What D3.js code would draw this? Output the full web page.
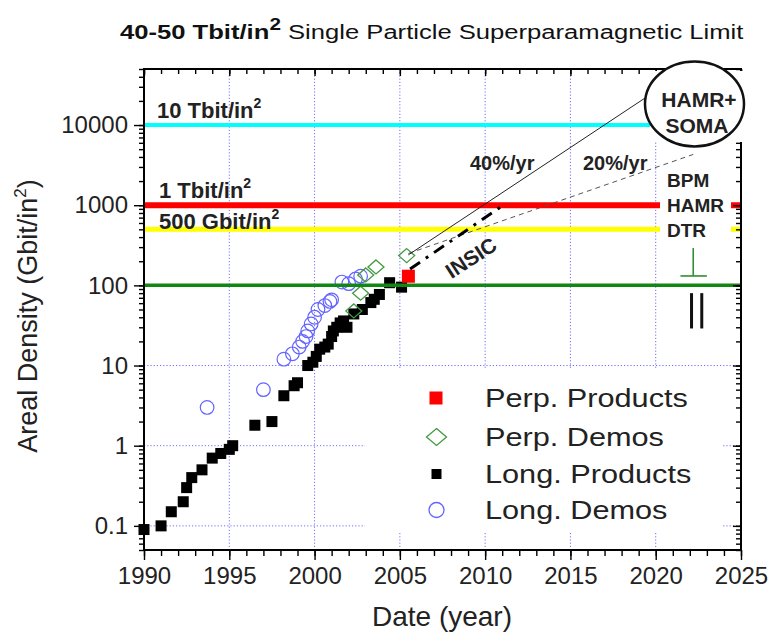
<!DOCTYPE html>
<html>
<head>
<meta charset="utf-8">
<script src="https://cdn.jsdelivr.net/npm/d3@7"></script>
<style>
  body { margin: 0; background: #fff; }
  svg { font-family: "Liberation Sans", Arial, sans-serif; }
</style>
</head>
<body>
<svg id="chart" width="771" height="639"></svg>
<script>
// data: [year, Gbit/in^2]
var longProducts = [
  [1990.0, 0.09], [1991.0, 0.1], [1991.6, 0.15], [1992.3, 0.2], [1992.5, 0.3],
  [1992.8, 0.4], [1993.4, 0.5], [1994.0, 0.7], [1994.5, 0.8], [1995.0, 0.9],
  [1995.2, 1.0], [1996.5, 1.8], [1997.5, 2.0], [1998.2, 4.2], [1998.8, 5.6],
  [1999.0, 6.1], [1999.6, 10], [1999.9, 11], [2000.1, 13], [2000.3, 16],
  [2000.6, 17], [2000.8, 18.5], [2001.0, 23], [2001.1, 27], [2001.3, 30],
  [2001.5, 34], [2001.7, 36], [2001.9, 30], [2002.3, 44], [2002.8, 50],
  [2003.3, 61], [2003.5, 67], [2003.8, 77], [2004.4, 108], [2005.1, 95]
];
var longDemos = [
  [1993.7, 3.0], [1997.0, 5.0], [1998.2, 12], [1998.7, 14], [1999.1, 17],
  [1999.3, 20], [1999.5, 23], [1999.6, 27], [1999.8, 33], [2000.0, 40],
  [2000.2, 50], [2000.6, 56], [2000.9, 63], [2001.0, 66], [2001.6, 110],
  [2002.0, 105], [2002.4, 120], [2002.7, 130]
];
var perpDemos = [[2002.3, 48], [2002.7, 80], [2003.0, 135], [2003.6, 170], [2005.4, 235]];
var perpProducts = [[2005.5, 130]];

// reference densities
var levelValues = [10000, 1000, 500, 100];
var levelLabels = ['10 Tbit/in', '1 Tbit/in', '500 Gbit/in'];

// trend projections
var trend40 = [[2005.5, 240], [2019.4, 21900]];
var trend20 = [[2005.5, 250], [2022.2, 4300]];
var trendInsic = [[2005.6, 160], [2011.0, 980]];

var xTicks = [1990, 1995, 2000, 2005, 2010, 2015, 2020, 2025];
var yTicks = [0.1, 1, 10, 100, 1000, 10000];
var legendLabels = ['Perp. Products', 'Perp. Demos', 'Long. Products', 'Long. Demos'];

var margin = {top: 69, right: 30, bottom: 89, left: 144};
var width = 771 - margin.left - margin.right;
var height = 639 - margin.top - margin.bottom;

var svg = d3.select('#chart');
var g = svg.append('g')
  .attr('transform', 'translate(' + margin.left + ',' + margin.top + ')');

var x = d3.scaleLinear().domain([1990, 2025]).range([0, width]);
var y = d3.scaleLog().domain([0.05, 50000]).range([height, 0]);

var years = d3.range(1990, 2026);
var minorY = y.ticks();

// dotted blue grid
var gridColor = '#6f6fff';
g.append('g').selectAll('line')
  .data(xTicks.slice(1, -1))
  .enter().append('line')
    .attr('x1', d => x(d)).attr('x2', d => x(d))
    .attr('y1', 0).attr('y2', height)
    .attr('stroke', gridColor).attr('stroke-dasharray', '1.2,2');
g.append('g').selectAll('line')
  .data(yTicks)
  .enter().append('line')
    .attr('x1', 0).attr('x2', width)
    .attr('y1', d => y(d)).attr('y2', d => y(d))
    .attr('stroke', gridColor).attr('stroke-dasharray', '1.2,2');

// legend background hides the grid
g.append('rect')
  .attr('x', 221).attr('y', 299).attr('width', 357).attr('height', 165)
  .attr('fill', '#fff');

// markers
var diamond = function(cx, cy, w, h) {
  return 'M' + cx + ',' + (cy - h) + 'L' + (cx + w) + ',' + cy + 'L' + cx + ',' + (cy + h) + 'L' + (cx - w) + ',' + cy + 'Z';
};

g.append('g').selectAll('circle')
  .data(longDemos)
  .enter().append('circle')
    .attr('cx', d => x(d[0])).attr('cy', d => y(d[1]))
    .attr('r', 6.8)
    .attr('fill', 'none').attr('stroke', '#6464ff').attr('stroke-width', 1.2);

g.append('g').selectAll('rect')
  .data(longProducts)
  .enter().append('rect')
    .attr('x', d => x(d[0]) - 5.5).attr('y', d => y(d[1]) - 5.5)
    .attr('width', 11).attr('height', 11)
    .attr('fill', '#000');

g.append('g').selectAll('path')
  .data(perpDemos)
  .enter().append('path')
    .attr('d', d => diamond(x(d[0]), y(d[1]), 8, 7))
    .attr('fill', 'none').attr('stroke', '#3f9a3f').attr('stroke-width', 1.3);

g.append('g').selectAll('rect')
  .data(perpProducts)
  .enter().append('rect')
    .attr('x', d => x(d[0]) - 6.5).attr('y', d => y(d[1]) - 6.5)
    .attr('width', 13).attr('height', 13)
    .attr('fill', '#ff0000');

// reference density lines
var levelColors = ['#00ffff', '#ff0000', '#ffff00', '#118811'];
var levelWidths = [4, 6, 5, 3.5];
g.append('g').selectAll('line')
  .data(levelValues)
  .enter().append('line')
    .attr('x1', 0).attr('x2', width)
    .attr('y1', d => y(d)).attr('y2', d => y(d))
    .attr('stroke', (d, i) => levelColors[i])
    .attr('stroke-width', (d, i) => levelWidths[i]);

// white patch behind the BPM / HAMR / DTR labels
g.append('rect')
  .attr('x', 516).attr('y', 96).attr('width', 71).attr('height', 77)
  .attr('fill', '#fff');

// trends
var line = d3.line().x(d => x(d[0])).y(d => y(d[1]));
g.append('path').datum(trend20)
  .attr('d', line).attr('fill', 'none')
  .attr('stroke', '#555').attr('stroke-width', 1).attr('stroke-dasharray', '5,4');
g.append('path').datum(trend40)
  .attr('d', line).attr('fill', 'none')
  .attr('stroke', '#222').attr('stroke-width', 1);
g.append('path').datum(trendInsic)
  .attr('d', line).attr('fill', 'none')
  .attr('stroke', '#000').attr('stroke-width', 3).attr('stroke-dasharray', '12,7,3,7');

// axes
var styleAxis = function(sel) {
  sel.select('.domain').remove();
  sel.selectAll('.tick line').attr('stroke', '#000').attr('stroke-width', 1.4);
  sel.selectAll('text').attr('font-size', 24).attr('fill', '#222')
    .attr('font-family', '"Liberation Sans", Arial, sans-serif');
};
var noLabel = () => '';

g.append('g')
  .attr('transform', 'translate(0,' + height + ')')
  .call(d3.axisBottom(x).tickValues(years).tickSize(6).tickFormat(noLabel))
  .call(styleAxis);
g.append('g')
  .attr('transform', 'translate(0,' + height + ')')
  .call(d3.axisBottom(x).tickValues(xTicks).tickSize(10).tickPadding(7).tickFormat(d3.format('d')))
  .call(styleAxis);

g.append('g')
  .call(d3.axisTop(x).tickValues(years).tickSize(-5).tickFormat(noLabel))
  .call(styleAxis);
g.append('g')
  .call(d3.axisTop(x).tickValues(xTicks).tickSize(-7).tickFormat(noLabel))
  .call(styleAxis);

g.append('g')
  .call(d3.axisLeft(y).tickValues(minorY).tickSize(5).tickFormat(noLabel))
  .call(styleAxis);
g.append('g')
  .call(d3.axisLeft(y).tickValues(yTicks).tickSize(10).tickPadding(6).tickFormat(d => String(d)))
  .call(styleAxis);

g.append('g')
  .attr('transform', 'translate(' + width + ',0)')
  .call(d3.axisRight(y).tickValues(minorY).tickSize(-5).tickFormat(noLabel))
  .call(styleAxis);
g.append('g')
  .attr('transform', 'translate(' + width + ',0)')
  .call(d3.axisRight(y).tickValues(yTicks).tickSize(-8).tickFormat(noLabel))
  .call(styleAxis);

g.append('rect')
  .attr('width', width).attr('height', height)
  .attr('fill', 'none').attr('stroke', '#000').attr('stroke-width', 2);

// HAMR+SOMA bubble sits over the top right corner
svg.append('rect')
  .attr('x', 650).attr('y', 71).attr('width', 100).attr('height', 71)
  .attr('fill', '#fff');
svg.append('ellipse')
  .attr('cx', 694.5).attr('cy', 104).attr('rx', 49.5).attr('ry', 42.5)
  .attr('fill', '#fff').attr('stroke', '#111').attr('stroke-width', 2.5);
svg.append('text').attr('x', 699).attr('y', 107)
  .attr('text-anchor', 'middle').attr('font-size', 21).attr('font-weight', 'bold')
  .attr('fill', '#222').text('HAMR+');
svg.append('text').attr('x', 697).attr('y', 133)
  .attr('text-anchor', 'middle').attr('font-size', 21).attr('font-weight', 'bold')
  .attr('fill', '#222').text('SOMA');

// technology labels
['BPM', 'HAMR', 'DTR'].forEach(function(t, i) {
  svg.append('text').attr('x', 667).attr('y', 187 + i * 25)
    .attr('font-size', 19).attr('font-weight', 'bold').attr('fill', '#222').text(t);
});

// perpendicular / longitudinal symbols
var perp = g.append('g').attr('stroke', '#2f8f2f').attr('stroke-width', 1.6);
perp.append('line')
  .attr('x1', x(2022.2)).attr('x2', x(2022.2)).attr('y1', y(292)).attr('y2', y(131));
perp.append('line')
  .attr('x1', x(2021.45)).attr('x2', x(2023.0)).attr('y1', y(131)).attr('y2', y(131));
var para = g.append('g').attr('stroke', '#111').attr('stroke-width', 3);
[2022.1, 2022.7].forEach(function(yr) {
  para.append('line')
    .attr('x1', x(yr)).attr('x2', x(yr)).attr('y1', y(80)).attr('y2', y(29));
});

// level labels
var levelLabelY = [118, 197.5, 229];
levelLabels.forEach(function(t, i) {
  var tx = svg.append('text').attr('x', i === 0 ? 157 : 159).attr('y', levelLabelY[i])
    .attr('font-size', 22).attr('font-weight', 'bold').attr('fill', '#222');
  tx.append('tspan').text(t);
  tx.append('tspan').attr('font-size', 14).attr('dy', -10).text('2');
});

// growth labels
svg.append('text').attr('x', 470).attr('y', 170)
  .attr('font-size', 20).attr('font-weight', 'bold').attr('fill', '#222').text('40%/yr');
svg.append('text').attr('x', 583).attr('y', 170)
  .attr('font-size', 20).attr('font-weight', 'bold').attr('fill', '#222').text('20%/yr');
svg.append('text')
  .attr('transform', 'translate(475,264) rotate(-33)')
  .attr('text-anchor', 'middle')
  .attr('font-size', 21).attr('font-weight', 'bold').attr('fill', '#222').text('INSIC');

// legend
var legend = svg.append('g');
var legendY = [398, 437, 474, 510];
legend.append('rect').attr('x', 429.5).attr('y', legendY[0] - 6.5)
  .attr('width', 13).attr('height', 13).attr('fill', '#ff0000');
legend.append('path').attr('d', diamond(436.5, legendY[1], 10, 8.5))
  .attr('fill', 'none').attr('stroke', '#3f9a3f').attr('stroke-width', 1.3);
legend.append('rect').attr('x', 431.5).attr('y', legendY[2] - 5)
  .attr('width', 10).attr('height', 10).attr('fill', '#000');
legend.append('circle').attr('cx', 436.5).attr('cy', legendY[3]).attr('r', 7.5)
  .attr('fill', 'none').attr('stroke', '#6464ff').attr('stroke-width', 1.3);
legendLabels.forEach(function(t, i) {
  legend.append('text')
    .attr('transform', 'translate(485,' + (legendY[i] + 9) + ') scale(1.18,1)')
    .attr('font-size', 26).attr('fill', '#222').text(t);
});

// axis titles
svg.append('text').attr('x', 442).attr('y', 626)
  .attr('text-anchor', 'middle').attr('font-size', 28).attr('fill', '#222')
  .text('Date (year)');
var yt = svg.append('text')
  .attr('transform', 'translate(37,316) rotate(-90)')
  .attr('text-anchor', 'middle').attr('font-size', 27).attr('fill', '#222');
yt.append('tspan').text('Areal Density (Gbit/in');
yt.append('tspan').attr('font-size', 17).attr('dy', -11).text('2');
yt.append('tspan').attr('dy', 11).text(')');

// title
var title = svg.append('text')
  .attr('transform', 'translate(120,39) scale(1.22,1)')
  .attr('font-size', 21).attr('fill', '#111');
title.append('tspan').attr('font-weight', 'bold').text('40-50 Tbit/in');
title.append('tspan').attr('font-weight', 'bold').attr('font-size', 17).attr('dy', -9).text('2');
title.append('tspan').attr('dy', 9).text(' Single Particle Superparamagnetic Limit');
</script>
</body>
</html>
